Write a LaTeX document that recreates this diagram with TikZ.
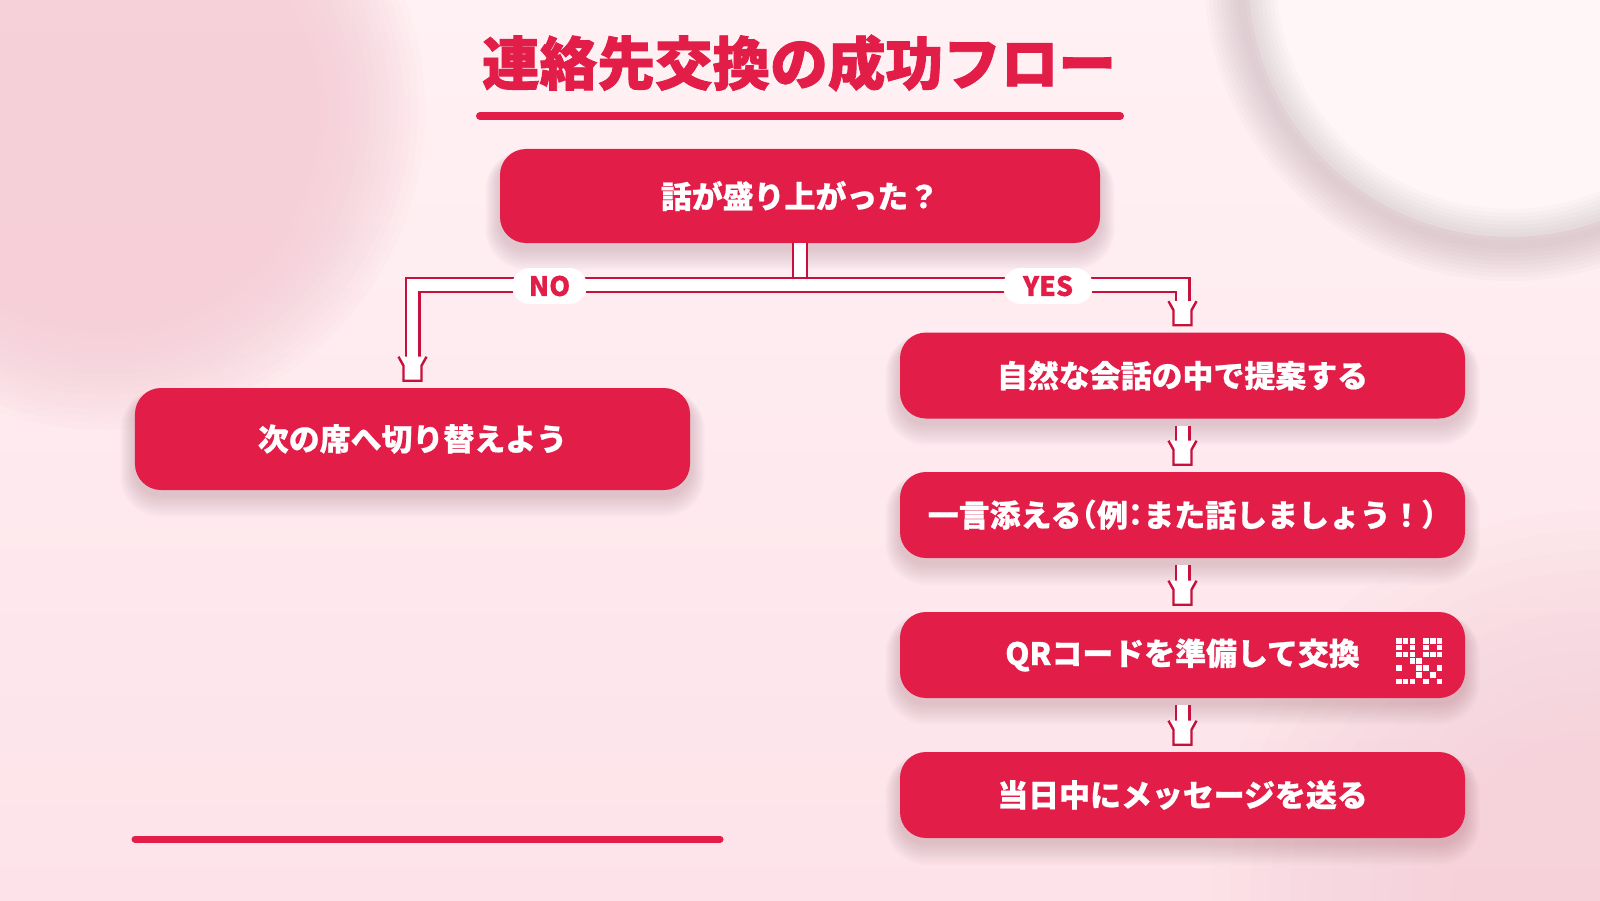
\documentclass[tikz,border=0pt]{standalone}
\usepackage{fontspec}
\setmainfont{Noto Sans CJK JP}
\newfontfamily\jphalt{Noto Sans CJK JP}[RawFeature=+halt]
\newfontfamily\titlefont{Noto Sans CJK JP}[BoldFeatures={FakeBold=1.5}]
\newfontfamily\boxfont{Noto Sans CJK JP}[BoldFeatures={FakeBold=0.6}]
\usetikzlibrary{calc}
\pgfdeclarelayer{bglayer}
\pgfdeclarelayer{shadowlayer}
\pgfsetlayers{bglayer,shadowlayer,main}
\definecolor{rose}{HTML}{E11D48}
\definecolor{rosedark}{HTML}{C8103C}
\definecolor{bgtop}{HTML}{FFF1F4}
\definecolor{bgbot}{HTML}{FDE3E9}
\definecolor{blob}{HTML}{F6C9D4}
\definecolor{disk}{HTML}{FFF6F8}
\definecolor{ringgray}{HTML}{8E7880}
\definecolor{shadowc}{HTML}{6E2438}
\tikzset{
  box/.style={rectangle, rounded corners=6.5mm, fill=rose, text=white,
    font=\boxfont\bfseries\fontsize{22}{26}\selectfont, inner sep=0pt},
  conn/.style={draw=rosedark, line width=0.6mm, double=white, double distance=2.8mm},
  tag/.style={fill=white, rounded corners=4.5mm, text=rose,
    font=\boxfont\bfseries\fontsize{19}{22}\selectfont, minimum height=9mm, inner sep=0pt},
  tipdown/.pic={
    \fill[white] (-14,-24) -- (-9,-15) -- (-9,0) -- (9,0) -- (9,-15) -- (14,-24) -- cycle;
    \draw[rosedark, line width=0.6mm] (-14,-24) -- (-9,-15) -- (-9,0) -- (9,0) -- (9,-15) -- (14,-24);
  },
}
\newcommand\mybshadow[1]{%
  \begin{pgfonlayer}{shadowlayer}
  \foreach \i in {1,...,12}{
    \fill[shadowc, opacity=0.017, rounded corners={6.5mm+0.3*\i*1mm}]
      ([xshift={-0.3*\i*1mm}, yshift={-1.2mm-0.45*\i*1mm}]#1.south west) rectangle
      ([xshift={0.3*\i*1mm}, yshift={-1.8mm+0.12*\i*1mm}]#1.north east);
  }
  \end{pgfonlayer}}
\begin{document}
\begin{tikzpicture}[x=0.25mm, y=-0.25mm]
\useasboundingbox (0,0) rectangle (1600,900);
\begin{pgfonlayer}{bglayer}
\begin{scope}
\clip (0,0) rectangle (1600,900);
% background
\shade[top color=bgtop, bottom color=bgbot] (0,0) rectangle (1600,900);
% top-left blob
\foreach \r in {215,222,...,320} \fill[blob, opacity=0.075] (105,110) circle[radius=\r];
% bottom-right blob
\foreach \r in {150,170,...,390} \fill[blob, opacity=0.06] (1600,900) circle[radius=\r];
% top-right ring
\fill[disk] (1510,-25) circle[radius=262];
\foreach \w in {18mm,16mm,14mm,12mm,10mm,8mm,6mm,4mm,2mm} \draw[ringgray, opacity=0.03, line width=\w] (1510,-25) circle[radius=270];
\end{scope}
\end{pgfonlayer}

% title
\node[text=rose, font=\titlefont\bfseries\fontsize{41}{48}\selectfont] (title) at (799,63) {連絡先交換の成功フロー};
\draw[rose, line width=2mm, line cap=round] (480,116) -- (1120,116);

% nodes
\node[box, minimum width=150mm, minimum height=23.5mm] (q) at (800,196) {話が盛り上がった？};
\node[box, minimum width=138.75mm, minimum height=25.5mm] (no) at (412.5,439) {次の席へ切り替えよう};
\node[box, minimum width=141.25mm, minimum height=21.5mm] (r1) at (1182.5,375.5) {自然な会話の中で提案する};
\node[box, minimum width=141.25mm, minimum height=21.5mm] (r2) at (1182.5,515) {一言添える{\jphalt\bfseries （}例{\jphalt\bfseries ：}また話しましょう！{\jphalt\bfseries ）}};
\node[box, minimum width=141.25mm, minimum height=21.5mm] (r3) at (1182.5,655) {QRコードを準備して交換};
\node[box, minimum width=141.25mm, minimum height=21.5mm] (r4) at (1182.5,795) {当日中にメッセージを送る};
\mybshadow{q}\mybshadow{no}\mybshadow{r1}\mybshadow{r2}\mybshadow{r3}\mybshadow{r4}

% QR icon
\foreach \c/\r in {0/0,1/0,2/0,4/0,5/0,6/0, 0/1,2/1,4/1,6/1, 0/2,1/2,2/2,4/2,5/2,6/2,
                   2/3,3/3, 0/4,3/4,4/4,6/4, 3/5,5/5, 0/6,1/6,2/6,4/6,6/6}
  \fill[white] ({1396+\c*6.8},{638+\r*6.8}) rectangle ++(5.6,5.6);

% connectors
\coordinate (jn) at (800,285);
\draw[conn] (q.south) -- (jn);
\draw[conn] ([yshift=7.75mm]no.north) |- (jn) -| ([yshift=7.75mm]r1.north);
\pic at ([yshift=1.75mm]no.north) {tipdown};
\pic at ([yshift=1.75mm]r1.north) {tipdown};
\draw[conn] ([yshift=-1.75mm]r1.south) -- ([yshift=7.75mm]r2.north);
\pic at ([yshift=1.75mm]r2.north) {tipdown};
\draw[conn] ([yshift=-1.75mm]r2.south) -- ([yshift=7.75mm]r3.north);
\pic at ([yshift=1.75mm]r3.north) {tipdown};
\draw[conn] ([yshift=-1.75mm]r3.south) -- ([yshift=7.75mm]r4.north);
\pic at ([yshift=1.75mm]r4.north) {tipdown};

% labels
\node[tag, minimum width=18.75mm] (nolab) at (549.5,286) {NO};
\node[tag, minimum width=22.5mm] (yeslab) at (1048,286) {YES};

% bottom line
\draw[rose, line width=1.75mm, line cap=round] (135,839) -- (720,839);
\end{tikzpicture}
\end{document}
